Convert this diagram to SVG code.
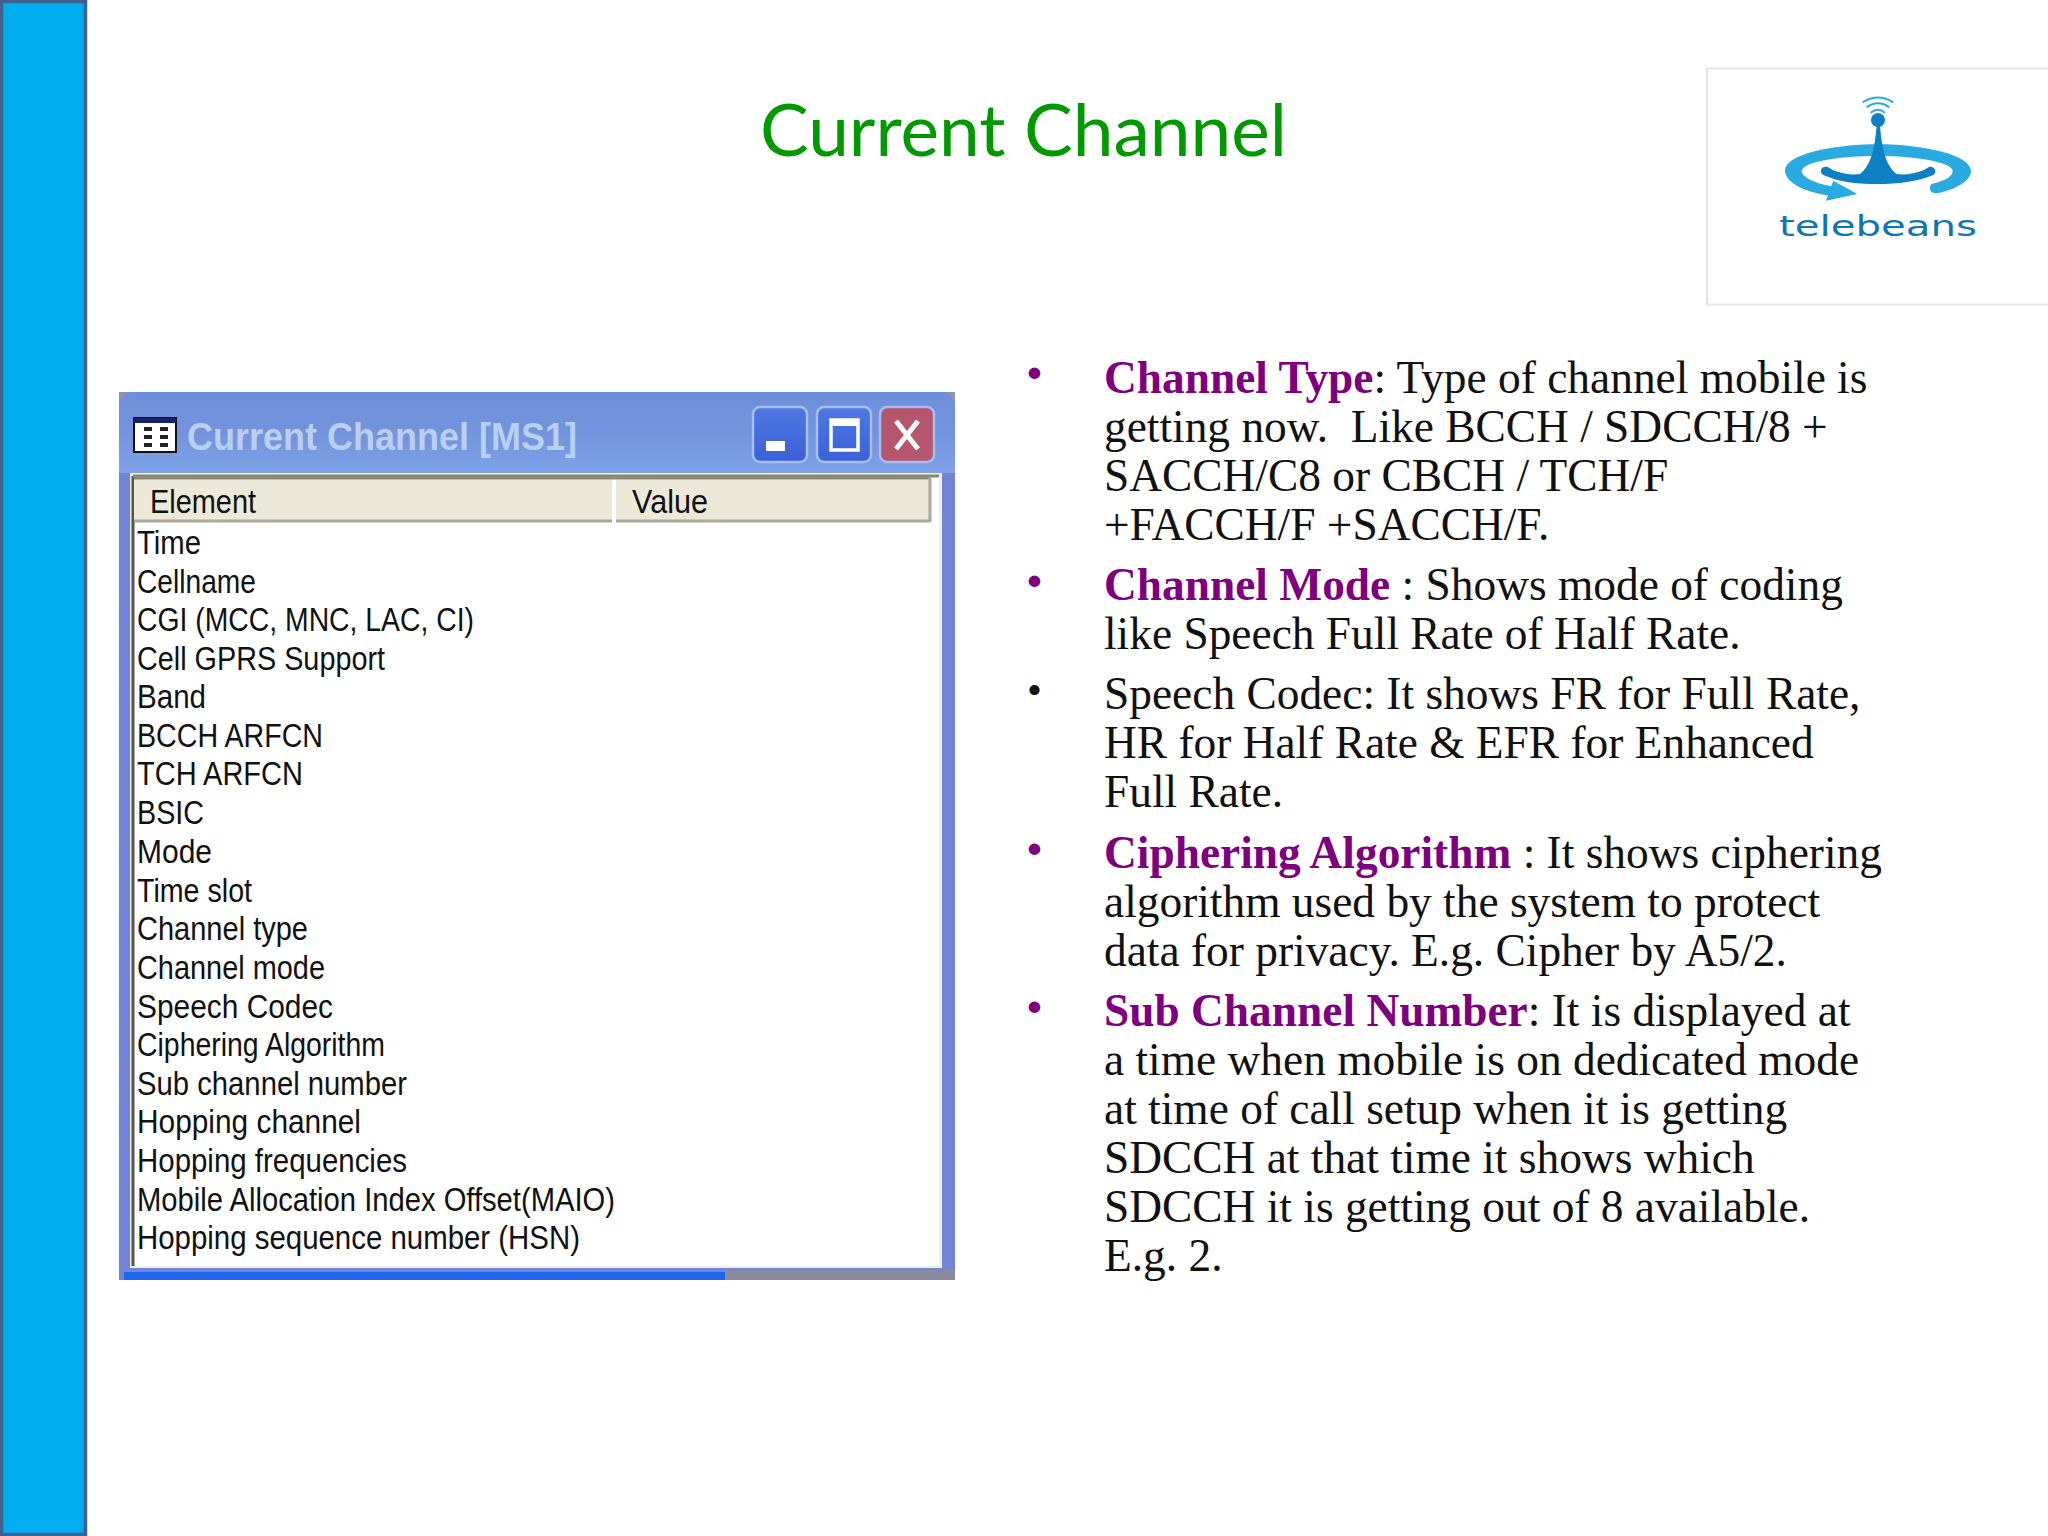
<svg xmlns="http://www.w3.org/2000/svg" width="2048" height="1536" viewBox="0 0 2048 1536">
<style>
.li{font-family:"Liberation Sans",Arial,sans-serif;font-size:33px;fill:#111}
.b{font-family:"Liberation Serif","Times New Roman",serif;font-size:45.4px;fill:#111}
.dot{font-family:"Liberation Serif","Times New Roman",serif;font-size:42.67px;fill:#111}
.p{fill:#7f007f;font-weight:bold}
.d{font-family:"Liberation Sans",Arial,sans-serif;font-size:38px}
.btn{stroke:#a9bdf0;stroke-width:2.5}
</style>
<defs>
<linearGradient id="tb" x1="0" y1="0" x2="0" y2="1"><stop offset="0" stop-color="#6f8fdc"/><stop offset="0.5" stop-color="#7393dd"/><stop offset="1" stop-color="#7fa2e8"/></linearGradient>
<linearGradient id="bb" x1="0" y1="0" x2="0" y2="1"><stop offset="0" stop-color="#4f78e0"/><stop offset="1" stop-color="#3b60d8"/></linearGradient>
</defs>
<rect width="2048" height="1536" fill="#fff"/>
<g id="sidebar"><rect x="1.5" y="1.5" width="84" height="1533" fill="#00aeef" stroke="#41608f" stroke-width="3.5"/></g>
<g id="title"><text x="760" y="156" font-family="Lato,'Open Sans',sans-serif" font-size="72" fill="#009a00" textLength="527" lengthAdjust="spacingAndGlyphs">Current Channel</text></g>
<g id="logo">
<rect x="1707" y="68.500" width="345" height="236" fill="#fff" stroke="#e4e4e4" stroke-width="2"/>
<g transform="translate(1680 50) scale(.3333)">
<path d="M755 402C805 390 820 375 818 360C808 335 700 318 595 318C475 318 372 335 365 362C365 385 415 402 462 410L450 437C380 428 315 400 315 360C318 315 450 283 595 283C730 283 870 315 873 362C873 395 820 420 770 430C750 432 745 412 755 402Z" fill="#29abe2"/>
<path d="M460 392L532 432L438 452Z" fill="#29abe2"/>
<path d="M590 225C585 290 575 345 540 372C510 376 470 370 445 352C425 345 415 365 430 375C480 398 540 402 595 402C650 402 715 395 760 375C775 365 760 345 745 352C720 370 680 376 650 372C615 345 605 290 600 225Z" fill="#0d7fc4"/>
<circle cx="594" cy="210" r="21" fill="#0d7fc4"/>
<path d="M548 157Q594 128 640 157M560 172Q594 148 628 172M572 188Q594 170 615 188" fill="none" stroke="#29abe2" stroke-width="6"/>
</g>
<text x="1779" y="236" font-family="'DejaVu Sans',sans-serif" font-size="28" fill="#0e76b5" textLength="198" lengthAdjust="spacingAndGlyphs">telebeans</text>
</g>
<g id="window">
<rect x="119" y="392" width="836" height="888" fill="#7284d8"/>
<path d="M119 404V392H131Q122 394 119 404ZM943 392H955V404Q952 394 943 392Z" fill="#8f95a8"/>
<path d="M119 473V404Q122 394 131 392H943Q952 394 955 404V473Z" fill="url(#tb)"/>
<rect x="725" y="1270" width="230" height="10" fill="#8a8aa0"/>
<rect x="124" y="1272" width="601" height="8" fill="#1f66ee"/>
<rect x="130" y="473" width="812" height="795" fill="#f0f0e4"/>
<rect x="133" y="476" width="806" height="790" fill="#fff"/>
<path d="M133 476V1266" stroke="#555" stroke-width="3"/>
<path d="M133 476H939" stroke="#888878" stroke-width="3"/>
<g id="window-icon"><rect x="134" y="418" width="42" height="34" fill="#fff" stroke="#111" stroke-width="2"/><rect x="134" y="418" width="42" height="5" fill="#16206a"/><path d="M144 429h8M144 437h8M144 445h8M160 429h8M160 437h8M160 445h8" stroke="#222" stroke-width="4"/></g>
<text x="187" y="450" class="d" font-weight="bold" fill="#bad0f2" textLength="390" lengthAdjust="spacingAndGlyphs">Current Channel [MS1]</text>
<g id="minimize"><rect x="753" y="407" width="54" height="55" rx="7" fill="url(#bb)" class="btn"/><rect x="766" y="441" width="19" height="10" fill="#fff"/></g>
<g id="maximize"><rect x="817" y="407" width="54" height="55" rx="7" fill="url(#bb)" class="btn"/><rect x="831" y="420" width="27" height="30" fill="none" stroke="#fff" stroke-width="3.500"/><rect x="831" y="420" width="27" height="6" fill="#fff"/></g>
<g id="close"><rect x="880" y="407" width="54" height="55" rx="7" fill="#b5566e" class="btn"/><path d="M896 421L918 449M918 421L896 449" stroke="#fff" stroke-width="5"/></g>
<g id="list-header">
<rect x="134" y="477" width="478" height="45" fill="#ece9d8"/>
<rect x="616" y="477" width="314" height="45" fill="#ece9d8"/>
<path d="M134 478H930" stroke="#8a8a78" stroke-width="3"/>
<path d="M134 521H612M616 521H930M930 477V522" stroke="#aca899" stroke-width="3"/>
<text x="150" y="513" class="li" textLength="106" lengthAdjust="spacingAndGlyphs">Element</text>
<text x="632" y="513" class="li" textLength="76" lengthAdjust="spacingAndGlyphs">Value</text>
</g>
<g id="list-items">
<text x="137" y="554" class="li" textLength="64" lengthAdjust="spacingAndGlyphs">Time</text>
<text x="137" y="593" class="li" textLength="119" lengthAdjust="spacingAndGlyphs">Cellname</text>
<text x="137" y="631" class="li" textLength="337" lengthAdjust="spacingAndGlyphs">CGI (MCC, MNC, LAC, CI)</text>
<text x="137" y="670" class="li" textLength="248" lengthAdjust="spacingAndGlyphs">Cell GPRS Support</text>
<text x="137" y="708" class="li" textLength="69" lengthAdjust="spacingAndGlyphs">Band</text>
<text x="137" y="747" class="li" textLength="186" lengthAdjust="spacingAndGlyphs">BCCH ARFCN</text>
<text x="137" y="785" class="li" textLength="166" lengthAdjust="spacingAndGlyphs">TCH ARFCN</text>
<text x="137" y="824" class="li" textLength="67" lengthAdjust="spacingAndGlyphs">BSIC</text>
<text x="137" y="863" class="li" textLength="75" lengthAdjust="spacingAndGlyphs">Mode</text>
<text x="137" y="902" class="li" textLength="115" lengthAdjust="spacingAndGlyphs">Time slot</text>
<text x="137" y="940" class="li" textLength="171" lengthAdjust="spacingAndGlyphs">Channel type</text>
<text x="137" y="979" class="li" textLength="188" lengthAdjust="spacingAndGlyphs">Channel mode</text>
<text x="137" y="1018" class="li" textLength="196" lengthAdjust="spacingAndGlyphs">Speech Codec</text>
<text x="137" y="1056" class="li" textLength="248" lengthAdjust="spacingAndGlyphs">Ciphering Algorithm</text>
<text x="137" y="1095" class="li" textLength="270" lengthAdjust="spacingAndGlyphs">Sub channel number</text>
<text x="137" y="1133" class="li" textLength="224" lengthAdjust="spacingAndGlyphs">Hopping channel</text>
<text x="137" y="1172" class="li" textLength="270" lengthAdjust="spacingAndGlyphs">Hopping frequencies</text>
<text x="137" y="1211" class="li" textLength="478" lengthAdjust="spacingAndGlyphs">Mobile Allocation Index Offset(MAIO)</text>
<text x="137" y="1249" class="li" textLength="443" lengthAdjust="spacingAndGlyphs">Hopping sequence number (HSN)</text>
</g>
</g>
<g id="bullets">
<g class="dot">
<text x="1027" y="387" class="p">•</text><text x="1027" y="595" class="p">•</text><text x="1027" y="704">•</text><text x="1027" y="863" class="p">•</text><text x="1027" y="1021" class="p">•</text>
</g>
<text class="b" x="1104" y="392.500"><tspan class="p">Channel Type</tspan>: Type of channel mobile is</text>
<text class="b" x="1104" y="441.500" xml:space="preserve">getting now.  Like BCCH / SDCCH/8 +</text>
<text class="b" x="1104" y="490.500">SACCH/C8 or CBCH / TCH/F</text>
<text class="b" x="1104" y="539.500">+FACCH/F +SACCH/F.</text>
<text class="b" x="1104" y="600">
<tspan class="p">Channel Mode </tspan>: Shows mode of coding</text>
<text class="b" x="1104" y="649">like Speech Full Rate of Half Rate.</text>
<text class="b" x="1104" y="709">Speech Codec: It shows FR for Full Rate,</text>
<text class="b" x="1104" y="758">HR for Half Rate &amp; EFR for Enhanced</text>
<text class="b" x="1104" y="807">Full Rate.</text>
<text class="b" x="1104" y="868"><tspan class="p">Ciphering Algorithm </tspan>: It shows ciphering</text>
<text class="b" x="1104" y="917">algorithm used by the system to protect</text>
<text class="b" x="1104" y="966">data for privacy. E.g. Cipher by A5/2.</text>
<text class="b" x="1104" y="1026"><tspan class="p">Sub Channel Number</tspan>: It is displayed at</text>
<text class="b" x="1104" y="1075">a time when mobile is on dedicated mode</text>
<text class="b" x="1104" y="1124">at time of call setup when it is getting</text>
<text class="b" x="1104" y="1173">SDCCH at that time it shows which</text>
<text class="b" x="1104" y="1222">SDCCH it is getting out of 8 available.</text>
<text class="b" x="1104" y="1271">E.g. 2.</text>
</g>
</svg>
